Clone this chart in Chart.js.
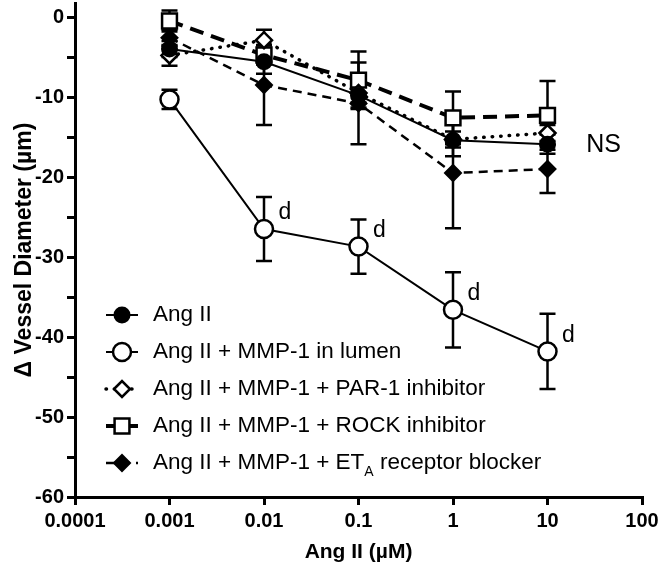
<!DOCTYPE html>
<html><head><meta charset="utf-8">
<script src="https://cdn.jsdelivr.net/npm/chart.js@4.4.1/dist/chart.umd.min.js"></script>
<style>html,body{margin:0;padding:0;background:#fff}</style>
</head><body>
<canvas id="c" width="660" height="566"></canvas>
<script>
// ---- data ----
const doses = [0.001, 0.01, 0.1, 1, 10];
const seriesNames = [
  'Ang II',
  'Ang II + MMP-1 in lumen',
  'Ang II + MMP-1 + PAR-1 inhibitor',
  'Ang II + MMP-1 + ROCK inhibitor',
  'Ang II + MMP-1 + ET_A receptor blocker'
];
const angII      = [-4.0, -5.6, -9.8, -15.4, -15.9];
const angIIErr   = [1.0, 1.5, 1.5, 2.0, 1.2];
const lumen      = [-10.3, -26.5, -28.7, -36.6, -41.8];
const lumenErr   = [1.2, 4.0, 3.4, 4.7, 4.7];
const par1       = [-4.8, -2.9, -9.5, -15.3, -14.5];
const par1Err    = [1.3, 1.3, 1.2, 1.0, 1.0];
const rock       = [-0.5, -4.75, -7.9, -12.6, -12.3];
const rockErr    = [1.3, 1.2, 3.6, 3.3, 4.3];
const eta        = [-2.6, -8.5, -10.8, -19.5, -19.0];
const etaErr     = [1.0, 5.0, 5.1, 6.9, 3.0];
const lumenMarks = ['', 'd', 'd', 'd', 'd'];
const nsLabel = 'NS';
const nsValue = -16;
const xTickValues = [0.0001, 0.001, 0.01, 0.1, 1, 10, 100];
const xTickLabels = ['0.0001', '0.001', '0.01', '0.1', '1', '10', '100'];
const yTickValues = [-60, -55, -50, -45, -40, -35, -30, -25, -20, -15, -10, -5, 0];
const xTitle = 'Ang II (\u00b5M)';
const yTitle = '\u0394 Vessel Diameter (\u00b5m)';

const FONT = '"Liberation Sans", Arial, sans-serif';
const pts = arr => doses.map((d, i) => ({x: d, y: arr[i]}));

const styles = [
  {pointStyle: 'circle', radius: 7.5, bg: '#000', bw: 2, lw: 2, dash: [], cap: 'butt'},
  {pointStyle: 'circle', radius: 9, bg: '#fff', bw: 2.5, lw: 2, dash: [], cap: 'butt'},
  {pointStyle: 'rectRot', radius: 8, bg: '#fff', bw: 2.5, lw: 3.5, dash: [0.5, 8], cap: 'round'},
  {pointStyle: 'rect', radius: 10.5, bg: '#fff', bw: 2.5, lw: 4, dash: [14, 8], cap: 'butt'},
  {pointStyle: 'rectRot', radius: 8, bg: '#000', bw: 2, lw: 2.5, dash: [9, 6], cap: 'butt'}
];
const values = [angII, lumen, par1, rock, eta];
const errs = [angIIErr, lumenErr, par1Err, rockErr, etaErr];

const datasets = values.map((v, i) => ({
  label: seriesNames[i].replace('_', ''),
  data: pts(v),
  errors: errs[i],
  borderColor: '#000',
  borderWidth: styles[i].lw,
  borderDash: styles[i].dash,
  borderCapStyle: styles[i].cap,
  pointStyle: styles[i].pointStyle,
  pointRadius: styles[i].radius,
  pointHoverRadius: styles[i].radius,
  pointBackgroundColor: styles[i].bg,
  pointBorderColor: '#000',
  pointBorderWidth: styles[i].bw,
  tension: 0,
  fill: false
}));

const errorBars = {
  id: 'errorBars',
  beforeDatasetsDraw(chart) {
    const ctx = chart.ctx, xs = chart.scales.x, ys = chart.scales.y;
    ctx.save();
    ctx.strokeStyle = '#000'; ctx.lineWidth = 2.5; ctx.setLineDash([]);
    chart.data.datasets.forEach(ds => {
      ds.data.forEach((p, j) => {
        const e = ds.errors[j];
        const px = xs.getPixelForValue(p.x);
        const yt = ys.getPixelForValue(p.y + e), yb = ys.getPixelForValue(p.y - e);
        ctx.beginPath();
        ctx.moveTo(px, yt); ctx.lineTo(px, yb);
        ctx.moveTo(px - 8, yt); ctx.lineTo(px + 8, yt);
        ctx.moveTo(px - 8, yb); ctx.lineTo(px + 8, yb);
        ctx.stroke();
      });
    });
    ctx.restore();
  }
};

const annotations = {
  id: 'annotations',
  afterDatasetsDraw(chart) {
    const ctx = chart.ctx, xs = chart.scales.x, ys = chart.scales.y;
    ctx.save();
    ctx.fillStyle = '#000';
    ctx.textAlign = 'center'; ctx.textBaseline = 'middle';
    ctx.font = '23px ' + FONT;
    doses.forEach((d, i) => {
      if (!lumenMarks[i]) return;
      ctx.fillText(lumenMarks[i], xs.getPixelForValue(d) + 21, ys.getPixelForValue(lumen[i]) - 16);
    });
    ctx.font = '25px ' + FONT;
    ctx.fillText(nsLabel, xs.getPixelForValue(doses[doses.length - 1]) + 56, ys.getPixelForValue(nsValue));
    ctx.restore();
  }
};

const legendPlugin = {
  id: 'customLegend',
  afterDraw(chart) {
    const ctx = chart.ctx, a = chart.chartArea;
    ctx.save();
    seriesNames.forEach((name, i) => {
      const y = a.top + 312 + i * 37;
      const s = styles[i];
      const x0 = a.left + 31, x1 = a.left + 63, xm = a.left + 47;
      ctx.strokeStyle = '#000';
      ctx.lineWidth = s.lw;
      ctx.lineCap = s.cap;
      ctx.setLineDash(s.dash);
      ctx.beginPath(); ctx.moveTo(x0, y); ctx.lineTo(x1, y); ctx.stroke();
      ctx.setLineDash([]);
      ctx.lineCap = 'butt';
      ctx.fillStyle = s.bg;
      ctx.lineWidth = s.bw;
      Chart.helpers.drawPoint(ctx, {pointStyle: s.pointStyle, radius: s.radius, borderWidth: s.bw}, xm, y);
      ctx.fillStyle = '#000';
      ctx.textAlign = 'left'; ctx.textBaseline = 'middle';
      let tx = a.left + 78;
      const parts = name.split('_');
      ctx.font = '22.5px ' + FONT;
      ctx.fillText(parts[0], tx, y);
      if (parts.length > 1) {
        tx += ctx.measureText(parts[0]).width;
        const sub = parts[1].charAt(0), rest = parts[1].slice(1);
        ctx.font = '14px ' + FONT;
        ctx.fillText(sub, tx, y + 9);
        tx += ctx.measureText(sub).width;
        ctx.font = '22.5px ' + FONT;
        ctx.fillText(rest, tx, y);
      }
    });
    ctx.restore();
  }
};

new Chart(document.getElementById('c'), {
  type: 'line',
  data: {datasets},
  options: {
    responsive: false,
    animation: false,
    events: [],
    layout: {autoPadding: false, padding: {left: 0, right: 18, top: 3, bottom: 0}},
    plugins: {legend: {display: false}, tooltip: {enabled: false}},
    scales: {
      x: {
        type: 'logarithmic',
        min: 0.0001, max: 100,
        afterBuildTicks(scale) { scale.ticks = xTickValues.map(v => ({value: v})); },
        afterFit(scale) { scale.height = 69; scale.paddingLeft = 0; scale.paddingRight = 0; },
        ticks: {
          autoSkip: false, maxRotation: 0, padding: 4, color: '#000',
          font: {family: FONT, size: 20, weight: 'bold'},
          callback(value, index) { return xTickLabels[index]; }
        },
        grid: {display: true, drawOnChartArea: false, drawTicks: true, tickLength: 8, tickWidth: 3, tickColor: '#000', color: '#000', lineWidth: 3},
        border: {display: true, color: '#000', width: 3},
        title: {display: true, text: xTitle, color: '#000', font: {family: FONT, size: 21, weight: 'bold'}, padding: {top: 0, bottom: 1}}
      },
      y: {
        type: 'linear',
        min: -60, max: 1.75,
        afterBuildTicks(scale) { scale.ticks = yTickValues.map(v => ({value: v})); },
        afterFit(scale) { scale.width = 75; scale.paddingTop = 0; scale.paddingBottom = 0; },
        ticks: {
          autoSkip: false, padding: 3, color: '#000',
          font: {family: FONT, size: 20, weight: 'bold'},
          callback(value) { return value % 10 === 0 ? String(value) : ''; }
        },
        grid: {display: true, drawOnChartArea: false, drawTicks: true, tickLength: 8, tickWidth: 3, tickColor: '#000', color: '#000', lineWidth: 3},
        border: {display: true, color: '#000', width: 3},
        title: {display: true, text: yTitle, color: '#000', font: {family: FONT, size: 23, weight: 'bold'}, padding: {top: 11, bottom: 0}}
      }
    }
  },
  plugins: [errorBars, annotations, legendPlugin]
});
</script>
</body></html>
